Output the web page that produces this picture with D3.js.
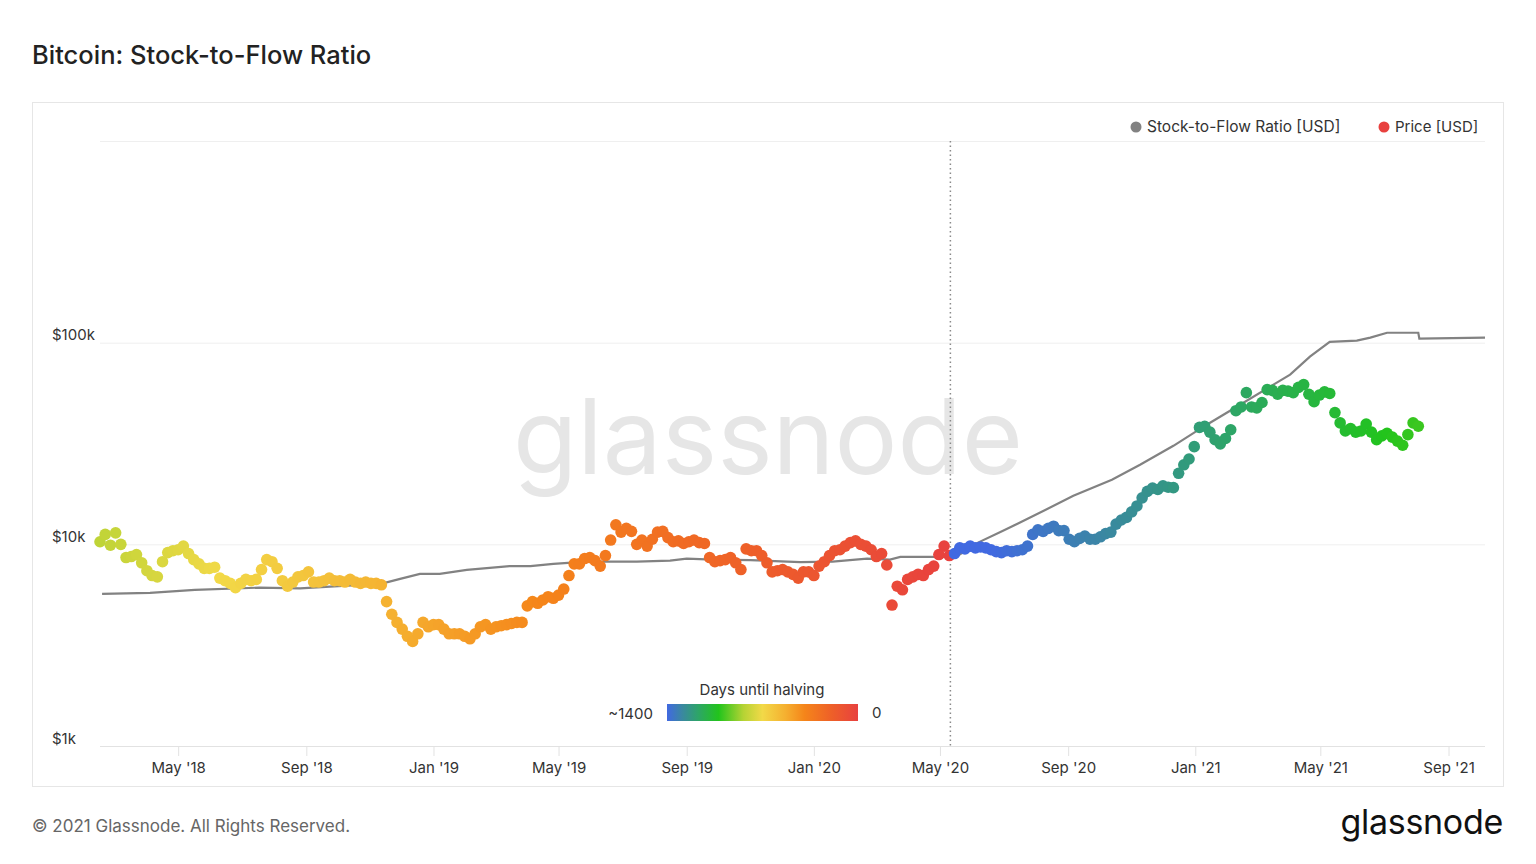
<!DOCTYPE html>
<html>
  <head>
    <meta charset="utf-8">
    <title>Bitcoin: Stock-to-Flow Ratio</title>
    <script src="https://cdnjs.cloudflare.com/ajax/libs/d3/7.8.5/d3.min.js"></script>
    <style>
      body { margin: 0; background: #fff; }
      text { font-family: Inter, "Open Sans", sans-serif; }
    </style>
  </head>
  <body>
    <script>

      var outerWidth = 1536;
      var outerHeight = 864;

      // price [k USD], one value every 5 days from 2018-02-15
      var priceStart = new Date(2018, 1, 15);
      var priceStepDays = 5;
      var priceK = [
        10.3, 11.2, 9.9, 11.4, 10.0, 8.6, 8.7, 8.9, 8.1, 7.4, 7.0, 6.9, 8.2, 9.1, 9.3, 9.4, 9.8, 9.0, 8.4, 8.0,
        7.6, 7.6, 7.7, 6.8, 6.6, 6.4, 6.1, 6.4, 6.7, 6.6, 6.7, 7.5, 8.4, 8.2, 7.6, 6.6, 6.2, 6.5, 6.9, 7.0,
        7.3, 6.5, 6.5, 6.6, 6.8, 6.6, 6.6, 6.5, 6.7, 6.5, 6.4, 6.5, 6.4, 6.4, 6.3, 5.2, 4.5, 4.1, 3.8, 3.5,
        3.3, 3.6, 4.1, 3.9, 4.0, 4.0, 3.8, 3.6, 3.6, 3.6, 3.5, 3.4, 3.6, 3.9, 4.0, 3.8, 3.9, 3.95, 4.0, 4.05,
        4.1, 4.1, 4.95, 5.2, 5.1, 5.3, 5.5, 5.4, 5.6, 6.0, 7.0, 8.0, 8.0, 8.5, 8.6, 8.3, 7.8, 8.8, 10.5, 12.5,
        11.5, 12.0, 11.6, 10.0, 10.5, 9.8, 10.6, 11.5, 11.6, 10.8, 10.3, 10.4, 10.1, 10.3, 10.5, 10.2, 10.1, 8.6, 8.2, 8.3,
        8.4, 8.6, 8.1, 7.5, 9.5, 9.3, 9.3, 8.8, 8.1, 7.3, 7.4, 7.5, 7.3, 7.1, 6.8, 7.3, 7.3, 7.0, 7.8, 8.2,
        8.8, 9.3, 9.4, 9.8, 10.2, 10.4, 10.0, 9.8, 9.4, 8.7, 9.0, 7.9, 5.0, 6.2, 5.95, 6.7, 6.9, 7.1, 7.0, 7.5,
        7.8, 8.9, 9.8, 8.8, 9.0, 9.6, 9.5, 9.8, 9.6, 9.7, 9.6, 9.4, 9.2, 9.1, 9.3, 9.2, 9.3, 9.4, 9.8, 11.2,
        11.8, 11.6, 12.0, 12.3, 11.7, 11.7, 10.6, 10.3, 10.7, 11.0, 10.6, 10.6, 10.9, 11.3, 11.5, 12.6, 13.2, 13.6, 14.5, 15.5,
        17.0, 18.3, 19.0, 18.7, 19.5, 19.2, 19.1, 22.5, 24.8, 26.5, 30.5, 38.0, 38.5, 36.0, 33.0, 31.5, 33.5, 37.0, 46.0, 48.0,
        56.5, 48.0, 47.5, 50.5, 58.5, 58.0, 55.5, 58.0, 57.5, 56.5, 60.0, 62.0, 55.5, 51.0, 55.0, 57.0, 56.0, 45.0, 40.0, 36.5,
        37.5, 36.0, 36.5, 39.5, 36.0, 33.0, 34.5, 35.5, 34.0, 32.5, 31.0, 35.0, 40.0, 38.5
      ];

      // stock-to-flow model price [k USD]
      var s2fDates = [
        "2018-02-17", "2018-04-04", "2018-05-17", "2018-07-18", "2018-08-26", "2018-10-06", "2018-11-11",
        "2018-11-18", "2018-11-30", "2018-12-19", "2019-01-07", "2019-02-02", "2019-03-15", "2019-04-04",
        "2019-04-26", "2019-05-28", "2019-06-29", "2019-07-15", "2019-08-16", "2019-09-01", "2019-09-26",
        "2019-11-01", "2019-12-19", "2020-01-19", "2020-02-21", "2020-03-14", "2020-03-24", "2020-05-11",
        "2020-05-20", "2020-06-06", "2020-06-28", "2020-08-10", "2020-09-06", "2020-10-13", "2020-11-09",
        "2020-12-11", "2021-01-12", "2021-02-13", "2021-03-17", "2021-04-02", "2021-04-21", "2021-05-10",
        "2021-06-05", "2021-06-18", "2021-07-04", "2021-08-03", "2021-08-04", "2021-10-06"
      ];
      var s2fK = [
        5.68, 5.74, 5.95, 6.1, 6.05, 6.23, 6.36,
        6.5, 6.74, 7.13, 7.13, 7.47, 7.8, 7.8,
        8.0, 8.2, 8.2, 8.2, 8.3, 8.5, 8.4,
        8.35, 8.17, 8.2, 8.5, 8.4, 8.66, 8.66,
        8.9, 10.17, 11.5, 14.8, 17.4, 20.9, 24.8,
        30.8, 39.2, 49.2, 61.9, 69.4, 85.2, 101,
        102.3, 105.9, 112, 112, 104.7, 105.9
      ];

      var halvings = ["2020-05-11", "2024-04-20"];
      var yTicks = [1, 10, 100, 1000];
      var yTickLabels = ["$1k", "$10k", "$100k", ""];
      var xTickDates = ["2018-05-01", "2018-09-01", "2019-01-01", "2019-05-01", "2019-09-01", "2020-01-01",
                        "2020-05-01", "2020-09-01", "2021-01-01", "2021-05-01", "2021-09-01"];

      // colour ramp for days until halving
      var rampStops = [0, 0.08, 0.16, 0.27, 0.4, 0.5, 0.62, 0.72, 0.86, 1];
      var rampColors = ["#4169e1", "#3a88a0", "#2ea46a", "#22c41c", "#b5d334", "#f2d948",
                        "#f5b030", "#f5851a", "#ee6028", "#e8413f"];

      var parseDate = d3.timeParse("%Y-%m-%d");
      var dayMs = 864e5;

      var svg = d3.select("body").append("svg")
        .attr("width", outerWidth)
        .attr("height", outerHeight);

      // title + frame
      svg.append("text")
        .attr("x", 32).attr("y", 64)
        .attr("font-size", 25.5).attr("font-weight", 500).attr("fill", "#222")
        .text("Bitcoin: Stock-to-Flow Ratio");

      svg.append("rect")
        .attr("x", 32.5).attr("y", 102.5)
        .attr("width", 1471).attr("height", 684)
        .attr("fill", "#fff").attr("stroke", "#e6e6e6");

      var xScale = d3.scaleTime()
        .domain([parseDate("2018-02-15"), parseDate("2021-10-06")])
        .range([100, 1485]);
      var yScale = d3.scaleLog().domain([1, 1000]).range([746, 141]);

      var ramp = d3.scaleLinear().domain(rampStops).range(rampColors).clamp(true);
      var halvingDates = halvings.map(parseDate);

      function daysUntilHalving(date) {
        var next = halvingDates[0] > date ? halvingDates[0] : halvingDates[1];
        return (next - date) / dayMs;
      }
      function dotColor(date) {
        return ramp(1 - daysUntilHalving(date) / 1400);
      }

      // watermark
      svg.append("text")
        .attr("x", 768).attr("y", 474)
        .attr("text-anchor", "middle")
        .attr("font-size", 105).attr("fill", "#e6e6e6")
        .text("glassnode");

      // y gridlines
      var yAxisG = svg.append("g").attr("transform", "translate(100,0)")
        .call(d3.axisLeft(yScale).tickValues(yTicks).tickSize(-1385)
          .tickFormat(function (d, i) { return yTickLabels[i]; }));
      yAxisG.select(".domain").remove();
      yAxisG.selectAll("line").attr("stroke", function (d) { return d === 1 ? "#e2e2e2" : "#efefef"; });
      yAxisG.selectAll("text")
        .attr("x", -48).attr("dy", -3)
        .attr("text-anchor", "start")
        .attr("font-size", 15).attr("fill", "#333");

      // x axis
      var xAxisG = svg.append("g").attr("transform", "translate(0,746)")
        .call(d3.axisBottom(xScale).tickValues(xTickDates.map(parseDate))
          .tickSize(10).tickPadding(6).tickFormat(d3.timeFormat("%b '%y")));
      xAxisG.select(".domain").remove();
      xAxisG.selectAll("line").attr("stroke", "#e2e2e2");
      xAxisG.selectAll("text").attr("font-size", 15).attr("fill", "#333");

      // halving marker
      svg.append("line")
        .attr("x1", xScale(halvingDates[0])).attr("x2", xScale(halvingDates[0]))
        .attr("y1", 141).attr("y2", 746)
        .attr("stroke", "#8a8a8a").attr("stroke-width", 1.5)
        .attr("stroke-dasharray", "1.5,3");

      // stock-to-flow line
      var s2fData = s2fDates.map(function (d, i) { return { date: parseDate(d), value: s2fK[i] }; });
      svg.append("path")
        .datum(s2fData)
        .attr("fill", "none")
        .attr("stroke", "#828282")
        .attr("stroke-width", 2.2)
        .attr("d", d3.line()
          .x(function (d) { return xScale(d.date); })
          .y(function (d) { return yScale(d.value); }));

      // price dots
      var priceData = priceK.map(function (v, i) {
        return { date: d3.timeDay.offset(priceStart, i * priceStepDays), value: v };
      });
      svg.append("g").selectAll("circle")
        .data(priceData)
        .enter().append("circle")
        .attr("cx", function (d) { return xScale(d.date); })
        .attr("cy", function (d) { return yScale(d.value); })
        .attr("r", 5.8)
        .attr("fill", function (d) { return dotColor(d.date); });

      // top legend
      var legend = svg.append("g");
      legend.append("circle").attr("cx", 1136).attr("cy", 127).attr("r", 5.5).attr("fill", "#828282");
      legend.append("text").attr("x", 1147).attr("y", 132)
        .attr("font-size", 15.5).attr("fill", "#333").text("Stock-to-Flow Ratio [USD]");
      legend.append("circle").attr("cx", 1384).attr("cy", 127).attr("r", 5.5).attr("fill", "#e8413f");
      legend.append("text").attr("x", 1395).attr("y", 132)
        .attr("font-size", 15).attr("fill", "#333").text("Price [USD]");

      // colour legend
      var grad = svg.append("defs").append("linearGradient").attr("id", "halvingGrad");
      grad.selectAll("stop")
        .data(rampStops)
        .enter().append("stop")
        .attr("offset", function (d) { return d * 100 + "%"; })
        .attr("stop-color", function (d, i) { return rampColors[i]; });

      svg.append("text").attr("x", 762).attr("y", 695)
        .attr("text-anchor", "middle").attr("font-size", 15).attr("fill", "#333")
        .text("Days until halving");
      svg.append("rect").attr("x", 667).attr("y", 704)
        .attr("width", 191).attr("height", 17)
        .attr("fill", "url(#halvingGrad)");
      svg.append("text").attr("x", 653).attr("y", 719)
        .attr("text-anchor", "end").attr("font-size", 15).attr("fill", "#333")
        .text("~1400");
      svg.append("text").attr("x", 872).attr("y", 718)
        .attr("font-size", 15).attr("fill", "#333")
        .text("0");

      // footer
      svg.append("text").attr("x", 32).attr("y", 832)
        .attr("font-size", 17).attr("fill", "#666")
        .text("\u00a9 2021 Glassnode. All Rights Reserved.");
      svg.append("text").attr("x", 1503).attr("y", 834)
        .attr("text-anchor", "end")
        .attr("font-size", 34).attr("font-weight", 400).attr("fill", "#111")
        .attr("letter-spacing", -0.3)
        .text("glassnode");

    </script>
  </body>
</html>
